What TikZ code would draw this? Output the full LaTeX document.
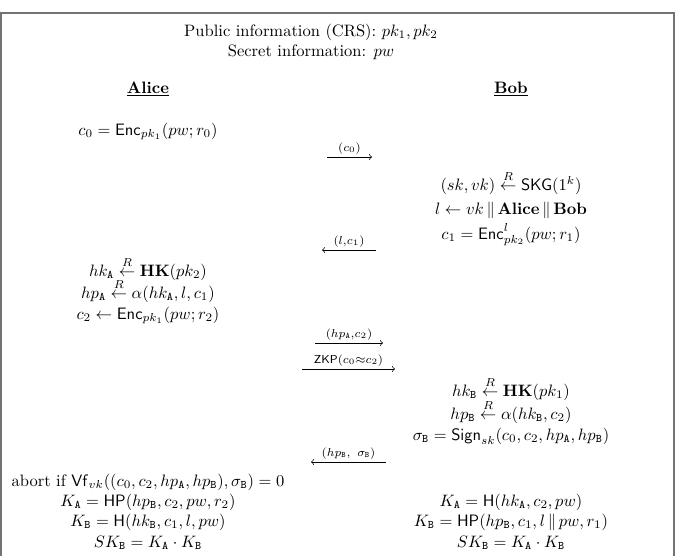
\documentclass[tikz,border=0pt]{standalone}
\usepackage{amsmath,amssymb}
\newcommand{\rgets}{\stackrel{R}{\leftarrow}}
\newcommand{\tA}{\mathtt{A}}
\newcommand{\tB}{\mathtt{B}}
\begin{document}
\begin{tikzpicture}[x=0.605pt,y=-0.605pt,
  txt/.style={anchor=base,inner sep=0pt},
  msg/.style={->,line width=0.4pt},
  lbl/.style={above,inner sep=1.5pt,font=\scriptsize},
  frame/.style={draw=black!55,line width=1.2pt}]
\useasboundingbox (0,0) rectangle (676,555);
\begin{scope}
\clip (0,0) rectangle (676,555);
\draw[frame] (1,600) -- (1,13) -- (674,13) -- (674,600);
\end{scope}

\node[txt] (pub) at (311,36) {Public information (CRS): $pk_1, pk_2$};
\node[txt] (sec) at (311,56) {Secret information: $pw$};
\node[txt] (alice) at (148,93) {\underline{\textbf{Alice}}};
\node[txt] (bob) at (511,93) {\underline{\textbf{Bob}}};

\node[txt] (a1) at (148,135) {$c_0 = \mathsf{Enc}_{pk_1}(pw;r_0)$};

\coordinate (m1s) at (327,157); \coordinate (m1e) at (372,157);
\draw[msg] (m1s) -- node[lbl] {$(c_0)$} (m1e);

\node[txt] (b1) at (511,190) {$(sk,vk) \rgets \mathsf{SKG}(1^k)$};
\node[txt] (b2) at (511,214) {$l \leftarrow vk \,\|\, \textbf{Alice} \,\|\, \textbf{Bob}$};
\node[txt] (b3) at (511,239) {$c_1 = \mathsf{Enc}^{l}_{pk_2}(pw;r_1)$};

\coordinate (m2s) at (376,250); \coordinate (m2e) at (322,250);
\draw[msg] (m2s) -- node[lbl] {$(l{,}c_1)$} (m2e);

\node[txt] (a2) at (148,276) {$hk_{\tA} \rgets \mathbf{HK}(pk_2)$};
\node[txt] (a3) at (148,298) {$hp_{\tA} \rgets \alpha(hk_{\tA}, l, c_1)$};
\node[txt] (a4) at (148,319) {$c_2 \leftarrow \mathsf{Enc}_{pk_1}(pw;r_2)$};

\coordinate (m3s) at (315,343); \coordinate (m3e) at (383,343);
\draw[msg] (m3s) -- node[lbl] {$(hp_{\tA}{,}c_2)$} (m3e);
\coordinate (m4s) at (302,369); \coordinate (m4e) at (395,369);
\draw[msg] (m4s) -- node[lbl] {$\mathsf{ZKP}(c_0{\approx}c_2)$} (m4e);

\node[txt] (b4) at (511,396) {$hk_{\tB} \rgets \mathbf{HK}(pk_1)$};
\node[txt] (b5) at (511,419) {$hp_{\tB} \rgets \alpha(hk_{\tB}, c_2)$};
\node[txt] (b6) at (511,440) {$\sigma_{\tB} = \mathsf{Sign}_{sk}(c_0, c_2, hp_{\tA}, hp_{\tB})$};

\coordinate (m5s) at (386,462); \coordinate (m5e) at (311,462);
\draw[msg] (m5s) -- node[lbl] {$(hp_{\tB},\ \sigma_{\tB})$} (m5e);

\node[txt] (a5) at (148,486) {abort if $\mathsf{Vf}_{vk}((c_0, c_2, hp_{\tA}, hp_{\tB}), \sigma_{\tB}) = 0$};
\node[txt] (a6) at (148,506) {$K_{\tA} = \mathsf{HP}(hp_{\tB}, c_2, pw, r_2)$};
\node[txt] (a7) at (148,526) {$K_{\tB} = \mathsf{H}(hk_{\tB}, c_1, l, pw)$};
\node[txt] (a8) at (148,547) {$SK_{\tB} = K_{\tA} \cdot K_{\tB}$};

\node[txt] (b7) at (511,506) {$K_{\tA} = \mathsf{H}(hk_{\tA}, c_2, pw)$};
\node[txt] (b8) at (511,526) {$K_{\tB} = \mathsf{HP}(hp_{\tB}, c_1, l \,\|\, pw, r_1)$};
\node[txt] (b9) at (511,547) {$SK_{\tB} = K_{\tA} \cdot K_{\tB}$};
\end{tikzpicture}
\end{document}
